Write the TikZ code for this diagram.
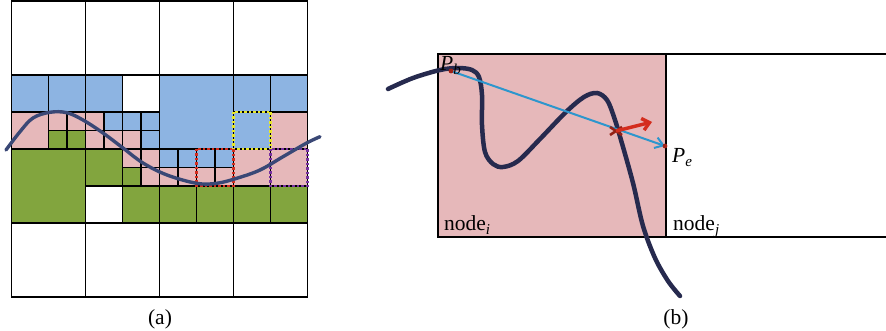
\documentclass[tikz,border=0pt]{standalone}
\usepackage{fontspec}
\setmainfont{Liberation Serif}
\usetikzlibrary{arrows.meta}
\definecolor{cblue}{RGB}{141,180,226}
\definecolor{cpink}{RGB}{230,184,186}
\definecolor{cgreen}{RGB}{130,165,62}
\definecolor{ccurve}{RGB}{58,72,118}
\definecolor{ccurveb}{RGB}{38,42,78}
\definecolor{carrow}{RGB}{45,150,205}
\definecolor{cred}{RGB}{212,45,30}
\definecolor{cyel}{RGB}{232,232,40}
\definecolor{cpurp}{RGB}{120,50,160}
\begin{document}
\begin{tikzpicture}[x=1pt,y=-1pt,
  gridline/.style={line width=1.8pt,black},
  dotbox/.style={line width=2.6pt,dash pattern=on 2.5pt off 2pt},
  lbl/.style={font=\fontsize{21.5}{24}\selectfont,inner sep=0pt},
  pathcurve/.style={line width=3.4pt,line cap=round}]
\useasboundingbox (0,0) rectangle (886,331);

% ---------- (a) fills ----------
% blue
\fill[cblue] (11.5,75) rectangle (122.5,112);
\fill[cblue] (159.5,75) rectangle (233.5,149);
\fill[cblue] (233.5,75) rectangle (307.5,112);
\fill[cblue] (233.5,112) rectangle (270.5,149);
\fill[cblue] (104,112) rectangle (122.5,130.5);
\fill[cblue] (122.5,112) rectangle (159.5,130.5);
\fill[cblue] (141,130.5) rectangle (159.5,149);
\fill[cblue] (159.5,149) rectangle (233.5,167.5);
% pink
\fill[cpink] (11.5,112) rectangle (48.5,149);
\fill[cpink] (48.5,112) rectangle (85.5,130.5);
\fill[cpink] (85.5,112) rectangle (104,130.5);
\fill[cpink] (85.5,130.5) rectangle (141,149);
\fill[cpink] (122.5,149) rectangle (159.5,167.5);
\fill[cpink] (141,167.5) rectangle (159.5,186);
\fill[cpink] (159.5,167.5) rectangle (233.5,186);
\fill[cpink] (233.5,149) rectangle (270.5,186);
\fill[cpink] (270.5,112) rectangle (307.5,186);
% green
\fill[cgreen] (48.5,130.5) rectangle (85.5,149);
\fill[cgreen] (11.5,149) rectangle (85.5,223);
\fill[cgreen] (85.5,149) rectangle (122.5,186);
\fill[cgreen] (122.5,167.5) rectangle (141,186);
\fill[cgreen] (122.5,186) rectangle (307.5,223);

% ---------- (a) grid ----------
\draw[gridline] (11.5,1) rectangle (307.5,297);
\draw[gridline] (85.5,1) -- (85.5,297) (159.5,1) -- (159.5,297) (233.5,1) -- (233.5,297);
\draw[gridline] (11.5,75) -- (307.5,75) (11.5,149) -- (307.5,149) (11.5,223) -- (307.5,223);
\draw[gridline] (11.5,112) -- (159.5,112) (233.5,112) -- (307.5,112);
\draw[gridline] (85.5,186) -- (307.5,186);
\draw[gridline] (48.5,75) -- (48.5,149);
\draw[gridline] (122.5,75) -- (122.5,223);
\draw[gridline] (196.5,149) -- (196.5,223);
\draw[gridline] (270.5,75) -- (270.5,223);
\draw[gridline] (48.5,130.5) -- (159.5,130.5);
\draw[gridline] (67,112) -- (67,149) (104,112) -- (104,149) (141,112) -- (141,186);
\draw[gridline] (122.5,167.5) -- (233.5,167.5);
\draw[gridline] (178,149) -- (178,186) (215,149) -- (215,186);

% dotted boxes
\draw[dotbox,cyel] (233.5,112) rectangle (270.5,149);
\draw[dotbox,cred] (196.5,149) rectangle (233.5,186);
\draw[dotbox,cpurp] (270.5,149) rectangle (307.5,186);

% curve (a)
\draw[pathcurve,ccurve] plot[smooth,tension=0.6] coordinates {
 (6,150) (20,131.7) (33,118) (50,112.3) (66.7,112.7) (83,120) (103,133)
 (123,148) (143,163) (167,175) (196.7,183.3) (216.7,183.3) (236.7,178.3)
 (260,170) (283,156.7) (306.7,143) (320,136.7)};

\node[lbl,anchor=base] (capa) at (160,324) {(a)};

% ---------- (b) ----------
\fill[cpink] (438,54) rectangle (666,237);
\draw[line width=2.3pt] (438,54) rectangle (666,237);
\draw[line width=2.3pt] (666,54) -- (886,54) (666,237) -- (886,237);

\draw[pathcurve,ccurveb,line width=4.5pt] plot[smooth,tension=0.55] coordinates {
 (388,89) (413,78) (440,70) (458,68) (472,70) (479,77) (482,95) (482,125)
 (485,152) (493,164) (503,167) (518,161) (540,139) (566,112) (584,97)
 (597,93) (607,100) (614,117) (621,140) (633,183) (643,226) (655,258)
 (668,281) (680,296)};

\coordinate (Pb) at (451,71);
\coordinate (Pe) at (665,146);
\coordinate (X) at (616,131);
\coordinate (R) at (652,122);

\draw[carrow,line width=2pt,-{Straight Barb[length=8pt,width=11pt,line width=2pt]}] (Pb) -- (Pe);
\fill[cred!75!black] (Pb) circle (2.4pt);
\fill[cred!75!black] (Pe) circle (2.4pt);
\draw[cred!70!black,line width=2.6pt] (X) ++(-6,-4) -- ++(12,8) (X) ++(-6,4) -- ++(12,-8);
\draw[cred,line width=3.4pt,-{Straight Barb[length=7pt,width=12pt,line width=3.4pt]}] (X) -- (R);

\node[lbl,anchor=base west] (pblabel) at (440,71) {\textit{P}\textsubscript{\textit{b}}};
\node[lbl,anchor=base west] (pelabel) at (672,163) {\textit{P}\textsubscript{\textit{e}}};
\node[lbl,anchor=base west] (nodei) at (444,231) {node\textsubscript{\textit{i}}};
\node[lbl,anchor=base west] (nodej) at (673,231) {node\textsubscript{\textit{j}}};
\node[lbl,anchor=base] (capb) at (676,324) {(b)};
\end{tikzpicture}
\end{document}
